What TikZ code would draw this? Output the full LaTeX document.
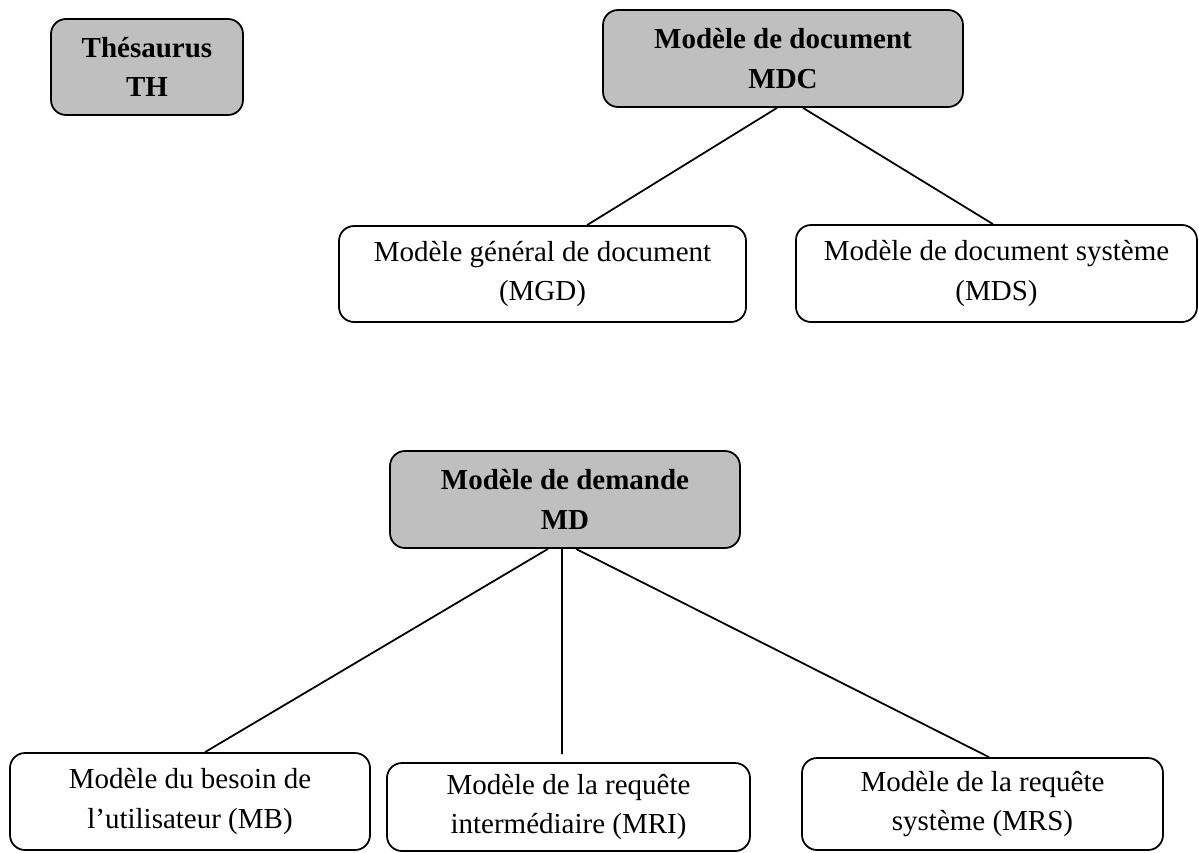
\documentclass[tikz,border=0pt]{standalone}
\usepackage{fontspec}
\setmainfont{Liberation Serif}
\usepackage{tikz}

\tikzset{
  model/.style={draw=black, rounded corners=3mm, align=center, inner sep=0pt,
    font=\fontsize{16.5}{22.5}\selectfont},
  mainmodel/.style={model, fill=black!25, font=\fontsize{16.5}{22.5}\selectfont\bfseries},
}

\begin{document}
\begin{tikzpicture}[x=0.2mm, y=-0.2mm, line width=1pt]
    \useasboundingbox (0,0) rectangle (1199,852);

    % draw grey main models
    \node[mainmodel, minimum width=38.4mm, minimum height=19.2mm] (th) at (147,67) {Thésaurus\\TH};
    \node[mainmodel, minimum width=72mm, minimum height=19.4mm] (mdc) at (783,58.5) {Modèle de document\\MDC};
    \node[mainmodel, minimum width=70mm, minimum height=19.4mm] (md) at (565,499.5) {Modèle de demande\\MD};

    % draw document sub-models
    \node[model, minimum width=81.4mm, minimum height=19.2mm] (mgd) at (542.5,274) {Modèle général de document\\(MGD)};
    \node[model, minimum width=80.2mm, minimum height=19.4mm] (mds) at (996.5,273.5) {Modèle de document système\\(MDS)};

    % draw demand sub-models
    \node[model, minimum width=72mm, minimum height=19.4mm] (mb) at (190,801.5) {Modèle du besoin de\\l’utilisateur (MB)};
    \node[model, minimum width=72.6mm, minimum height=17.6mm] (mri) at (568.5,807) {Modèle de la requête\\intermédiaire (MRI)};
    \node[model, minimum width=72.2mm, minimum height=18.4mm] (mrs) at (982.5,804) {Modèle de la requête\\système (MRS)};

    % draw links
    \draw ([xshift=-1.2mm]mdc.south) -- ([xshift=8.9mm]mgd.north);
    \draw ([xshift=4mm]mdc.south) -- ([xshift=-0.7mm]mds.north);

    \coordinate (mriend) at (562,754);
    \draw ([xshift=-3.4mm]md.south) -- ([xshift=3mm]mb.north);
    \draw ([xshift=-0.6mm]md.south) -- (mriend);
    \draw ([xshift=2.2mm]md.south) -- ([xshift=1.3mm]mrs.north);

\end{tikzpicture}
\end{document}
